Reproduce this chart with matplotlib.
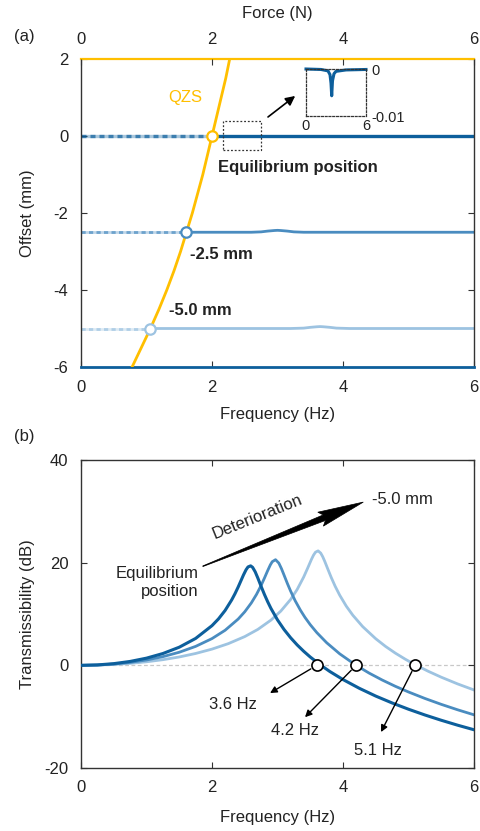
import numpy as np
import matplotlib.pyplot as plt
from matplotlib.patches import Polygon, Rectangle

plt.rcParams['font.family'] = ['Liberation Sans', 'DejaVu Sans']
plt.rcParams['font.size'] = 12
plt.rcParams['axes.unicode_minus'] = False

DARK = '#0d5f9c'
MID = '#4a8cc0'
LIGHT = '#9dc3e1'
QZS_C = '#ffbf00'
INK = '#333333'

# ---- (a) static offset vs force / frequency ----
qzs_offset = [-6, -5.5, -5, -4.5, -4, -3.5, -3, -2.5, -2, -1.5, -1, -0.5, 0, 0.5, 1, 1.5, 2]
qzs_force = [0.78, 0.92, 1.06, 1.19, 1.31, 1.42, 1.52, 1.61, 1.70, 1.78, 1.86, 1.93,
             2.0, 2.07, 2.14, 2.21, 2.27]

eq_force = [2.0, 1.61, 1.06]          # operating points on the QZS curve
eq_offset = [0.0, -2.5, -5.0]
eq_labels = ['Equilibrium position', '-2.5 mm', '-5.0 mm']

# dynamic offset traces vs frequency
trace0_f = [2.0, 6.0]
trace0_y = [0.0, 0.0]
trace1_f = [1.61, 2.6, 2.75, 2.85, 2.95, 3.0, 3.05, 3.15, 3.25, 3.4, 6.0]
trace1_y = [-2.5, -2.5, -2.49, -2.47, -2.455, -2.45, -2.455, -2.47, -2.49, -2.5, -2.5]
trace2_f = [1.06, 3.2, 3.4, 3.5, 3.6, 3.65, 3.7, 3.8, 3.9, 4.1, 6.0]
trace2_y = [-5.0, -5.0, -4.99, -4.97, -4.955, -4.95, -4.955, -4.97, -4.99, -5.0, -5.0]

# zoomed view of the equilibrium trace
inset_f = [0, 1.5, 2.2, 2.4, 2.5, 2.57, 2.65, 2.8, 3.0, 4.0, 6.0]
inset_y = [0, -0.0001, -0.0004, -0.0012, -0.0030, -0.0057, -0.0025, -0.0010, -0.0005, -0.0002, -0.0001]

# ---- (b) transmissibility ----
f_eq = [0, 0.25, 0.5, 0.75, 1.0, 1.25, 1.5, 1.75, 2.0, 2.1, 2.2, 2.3, 2.35, 2.4, 2.45, 2.48,
        2.52, 2.55, 2.59, 2.62, 2.66, 2.7, 2.75, 2.8, 2.85, 2.9, 3.0, 3.1, 3.2, 3.3, 3.4, 3.5,
        3.66, 3.8, 4.0, 4.25, 4.5, 4.75, 5.0, 5.25, 5.5, 5.75, 6.0]
t_eq = [0, 0.08, 0.33, 0.76, 1.40, 2.30, 3.53, 5.24, 7.73, 9.06, 10.69, 12.73, 13.93, 15.27,
        16.72, 17.59, 18.62, 19.17, 19.38, 19.09, 18.21, 17.00, 15.38, 13.82, 12.39, 11.09,
        8.85, 6.98, 5.38, 3.98, 2.74, 1.62, 0.03, -1.21, -2.77, -4.48, -5.99, -7.33, -8.55,
        -9.67, -10.70, -11.66, -12.55]
f_25 = [0, 0.25, 0.5, 0.75, 1.0, 1.25, 1.5, 1.75, 2.0, 2.2, 2.4, 2.5, 2.6, 2.68, 2.75, 2.8,
        2.85, 2.89, 2.92, 2.97, 3.02, 3.06, 3.1, 3.15, 3.2, 3.27, 3.35, 3.42, 3.5, 3.6, 3.75,
        3.95, 4.2, 4.4, 4.6, 4.8, 5.0, 5.25, 5.5, 5.75, 6.0]
t_25 = [0, 0.06, 0.25, 0.57, 1.04, 1.69, 2.55, 3.69, 5.21, 6.83, 9.02, 10.43, 12.15, 13.83,
        15.57, 16.98, 18.45, 19.55, 20.19, 20.58, 19.92, 18.85, 17.58, 15.97, 14.47, 12.58,
        10.74, 9.33, 7.92, 6.38, 4.41, 2.24, 0.0, -1.52, -2.87, -4.09, -5.19, -6.45, -7.60,
        -8.66, -9.64]
f_50 = [0, 0.25, 0.5, 0.75, 1.0, 1.25, 1.5, 1.75, 2.0, 2.25, 2.5, 2.7, 2.9, 3.05, 3.2, 3.3,
        3.4, 3.46, 3.52, 3.55, 3.58, 3.62, 3.66, 3.69, 3.72, 3.77, 3.82, 3.88, 3.95, 4.05,
        4.15, 4.3, 4.5, 4.65, 4.8, 4.95, 5.1, 5.3, 5.5, 5.75, 6.0]
t_50 = [0, 0.04, 0.17, 0.38, 0.69, 1.10, 1.63, 2.31, 3.16, 4.23, 5.60, 7.00, 8.81, 10.56,
        12.83, 14.77, 17.21, 18.92, 20.69, 21.47, 22.04, 22.30, 21.86, 21.17, 20.30, 18.70,
        17.13, 15.41, 13.66, 11.53, 9.76, 7.55, 5.18, 3.68, 2.37, 1.20, 0.13, -1.15, -2.31,
        -3.62, -4.80]
cross_f = [3.6, 4.2, 5.1]
cross_lbl = ['3.6 Hz', '4.2 Hz', '5.1 Hz']

W, H = 481, 831
fig = plt.figure(figsize=(W / 100, H / 100), dpi=100)


def box(x0, y0, x1, y1):
    return [x0 / W, 1 - y1 / H, (x1 - x0) / W, (y1 - y0) / H]


def style(ax):
    ax.tick_params(direction='in', length=4, width=0.8, colors=INK, labelcolor='#222',
                   labelsize=12, pad=9, top=True, right=True)
    for s in ax.spines.values():
        s.set_color(INK)
        s.set_linewidth(1.0)


# ---------------- panel (a) ----------------
ax1 = fig.add_axes(box(81, 59, 474, 367))
style(ax1)
ax1.set_xlim(0, 6)
ax1.set_ylim(-6, 2)
ax1.set_xticks([0, 2, 4, 6])
ax1.set_yticks([-6, -4, -2, 0, 2])
ax1.tick_params(top=False)
ax1.spines['bottom'].set_color(DARK)
ax1.spines['bottom'].set_linewidth(2)
ax1.spines['top'].set_color(QZS_C)
ax1.spines['top'].set_linewidth(1.6)
ax1.set_xlabel('Frequency (Hz)', color='#222')
ax1.set_ylabel('Offset (mm)', color='#222')
ax1.xaxis.set_label_coords(0.5, -0.155)
ax1.xaxis.label.set_va('center')
ax1.yaxis.set_label_coords(-0.137, 0.5)
ax1.yaxis.label.set_va('center')

colors = [DARK, MID, LIGHT]
widths = [2.4, 2.0, 2.0]
for (tf, ty), c, lw, f0, y0 in zip([(trace0_f, trace0_y), (trace1_f, trace1_y), (trace2_f, trace2_y)],
                                   colors, widths, eq_force, eq_offset):
    ax1.plot([0, f0], [y0, y0], color=c, lw=lw, alpha=0.35, zorder=2)
    ax1.plot([0, f0], [y0, y0], color=c, lw=lw, ls=(0, (1.5, 1.2)), alpha=0.7, zorder=2)
    ax1.plot(tf, ty, color=c, lw=lw, zorder=2)

ax1t = ax1.twiny()
ax1t.set_xlim(0, 6)
ax1t.set_xticks([0, 2, 4, 6])
ax1t.tick_params(direction='in', length=4, width=0.8, colors=INK, labelcolor='#222',
                 labelsize=12, pad=9)
for s in ax1t.spines.values():
    s.set_visible(False)
ax1t.set_xlabel('Force (N)', color='#222')
ax1t.xaxis.set_label_coords(0.5, 1.147)
ax1t.xaxis.label.set_va('center')
ax1t.plot(qzs_force, qzs_offset, color=QZS_C, lw=2, zorder=3)
for f0, y0, ec in zip(eq_force, eq_offset, [QZS_C, MID, LIGHT]):
    ax1t.plot(f0, y0, 'o', ms=7.5, mfc='white', mec=ec, mew=1.6, zorder=4)

ax1.text(1.59, 0.99, 'QZS', color=QZS_C, fontsize=12, ha='center', va='center')
for (x, y), s in zip([(2.09, -0.83), (1.66, -3.09), (1.34, -4.52)], eq_labels):
    ax1.text(x, y, s, fontsize=12, fontweight='bold', color='#222', ha='left', va='center')

ax1.add_patch(Rectangle((2.17, -0.36), 0.58, 0.75, fill=False, ls=(0, (1.5, 1.5)),
                        lw=0.9, ec=INK, zorder=5))
ax1.annotate('', xy=(3.27, 1.04), xytext=(2.855, 0.494),
             arrowprops=dict(arrowstyle='-|>', color='black', lw=1.2,
                             mutation_scale=14, shrinkA=0, shrinkB=0))

axi = fig.add_axes(box(306, 69, 366, 116))
axi.plot(inset_f, inset_y, color=DARK, lw=2.2, clip_on=False)
axi.set_xlim(0, 6)
axi.set_ylim(-0.01, 0)
axi.set_xticks([0, 6])
axi.set_yticks([-0.01, 0])
axi.set_yticklabels(['-0.01', '0'])
axi.yaxis.tick_right()
axi.tick_params(length=0, labelsize=10.5, labelcolor='#222', pad=4)
axi.tick_params(axis='x', pad=2)
for s in axi.spines.values():
    s.set_linestyle((0, (1.5, 1.5)))
    s.set_linewidth(0.9)
    s.set_color(INK)
axi.patch.set_alpha(0)

fig.text(24 / W, 1 - 36 / H, '(a)', fontsize=12, color='#222', ha='center', va='center')

# ---------------- panel (b) ----------------
ax2 = fig.add_axes(box(81, 460, 474, 768))
style(ax2)
ax2.set_xlim(0, 6)
ax2.set_ylim(-20, 40)
ax2.set_xticks([0, 2, 4, 6])
ax2.set_yticks([-20, 0, 20, 40])
ax2.set_xlabel('Frequency (Hz)', color='#222')
ax2.set_ylabel('Transmissibility (dB)', color='#222')
ax2.xaxis.set_label_coords(0.5, -0.162)
ax2.xaxis.label.set_va('center')
ax2.yaxis.set_label_coords(-0.137, 0.5)
ax2.yaxis.label.set_va('center')

ax2.axhline(0, color='#c8c8c8', lw=0.9, ls=(0, (3, 2)), zorder=1)
ax2.plot(f_50, t_50, color=LIGHT, lw=2, zorder=2)
ax2.plot(f_25, t_25, color=MID, lw=2, zorder=2)
ax2.plot(f_eq, t_eq, color=DARK, lw=2.2, zorder=3)
ax2.plot(cross_f, [0] * len(cross_f), 'o', ms=8, mfc='white', mec='black', mew=1.2, zorder=5)

label_xy = [(2.32, -7.6), (3.27, -12.6), (4.53, -16.5)]
arrow_end = [(2.886, -5.4), (3.42, -10.1), (4.58, -13.0)]
for fx, s, (lx, ly), end in zip(cross_f, cross_lbl, label_xy, arrow_end):
    ax2.annotate('', xy=end, xytext=(fx, 0),
                 arrowprops=dict(arrowstyle='-|>', color='black', lw=1.0,
                                 mutation_scale=10, shrinkA=5, shrinkB=0))
    ax2.text(lx, ly, s, fontsize=12, color='#222', ha='center', va='center')


def tapered_arrow(ax, tail, tip, w_tail=0.6, w_shaft=6, w_head=15, head_len=42):
    # build the outline in pixels so the taper is not skewed by the axes aspect
    p0 = ax.transData.transform(tail)
    p1 = ax.transData.transform(tip)
    u = (p1 - p0) / np.hypot(*(p1 - p0))
    n = np.array([-u[1], u[0]])
    base = p1 - u * head_len
    pts = [p0 + n * w_tail / 2, base + n * w_shaft / 2, base - u * 4 + n * w_head / 2, p1,
           base - u * 4 - n * w_head / 2, base - n * w_shaft / 2, p0 - n * w_tail / 2]
    pts = ax.transData.inverted().transform(np.array(pts))
    ax.add_patch(Polygon(pts, closed=True, fc='black', ec='black', lw=0.5, zorder=6))


tapered_arrow(ax2, (1.86, 19.3), (4.31, 31.8))
ax2.text(2.70, 28.9, 'Deterioration', fontsize=12, color='#222', ha='center', va='center',
         rotation=22, rotation_mode='anchor')
ax2.text(4.44, 32.4, '-5.0 mm', fontsize=12, color='#222', ha='left', va='center')
ax2.text(1.79, 16.2, 'Equilibrium\nposition', fontsize=12, color='#222', ha='right',
         va='center', multialignment='right', linespacing=1.25)

fig.text(24 / W, 1 - 437 / H, '(b)', fontsize=12, color='#222', ha='center', va='center')

fig.savefig('out.png', dpi=100)
plt.close(fig)
